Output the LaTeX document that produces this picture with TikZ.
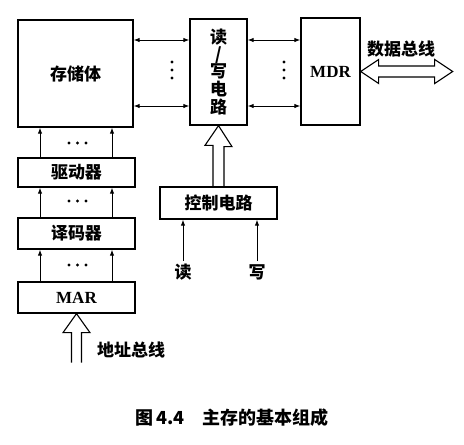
\documentclass[tikz,border=0pt]{standalone}
\usepackage{fontspec}
\setmainfont{Noto Sans CJK SC}
\newfontfamily\latinfont{Liberation Serif}
\usetikzlibrary{arrows.meta,calc}
\tikzset{
  unit/.style={draw,line width=1.3pt,inner sep=0pt,
    font=\fontsize{17}{20}\selectfont\bfseries},
  reg/.style={unit,font=\latinfont\fontsize{17}{20}\selectfont\bfseries},
  bus/.style={draw,line width=1.1pt,line join=miter},
  wire/.style={line width=1pt,-{Latex[length=6pt,width=4.5pt]}},
  wiretwo/.style={line width=1pt,{Latex[length=6pt,width=4.5pt]}-{Latex[length=6pt,width=4.5pt]}},
  tag/.style={inner sep=0pt,font=\fontsize{17}{20}\selectfont\bfseries},
}
\begin{document}
\begin{tikzpicture}[x=1pt,y=-1pt]
  \useasboundingbox (0,0) rectangle (464,445);

  %Boxes
  \node[unit,minimum width=115pt,minimum height=107pt] (store) at (75.5,73.5) {存储体};
  \node[unit,minimum width=57pt,minimum height=106pt,align=center] (rw) at (218.5,72)
    {读\\[-3pt]/\\[-3pt]写\\[-2pt]电\\[-2pt]路};
  \node[reg,minimum width=59pt,minimum height=107pt] (mdr) at (330.5,71.5) {MDR};
  \node[unit,minimum width=117pt,minimum height=29pt] (drv) at (76.5,172.5) {驱动器};
  \node[unit,minimum width=117pt,minimum height=31pt] (dec) at (76.5,233.5) {译码器};
  \node[reg,minimum width=117pt,minimum height=31pt] (mar) at (76.5,297.5) {MAR};
  \node[unit,minimum width=117pt,minimum height=32pt] (ctl) at (218.5,203) {控制电路};

  %Rows and columns of the thin lines
  \coordinate (rowA) at (0,40);
  \coordinate (rowB) at (0,106);
  \coordinate (colA) at (40,0);
  \coordinate (colB) at (112,0);

  \draw[wiretwo] (store.east |- rowA) -- (rw.west |- rowA);
  \draw[wiretwo] (store.east |- rowB) -- (rw.west |- rowB);
  \draw[wiretwo] (rw.east |- rowA) -- (mdr.west |- rowA);
  \draw[wiretwo] (rw.east |- rowB) -- (mdr.west |- rowB);
  \foreach \y in {62,70,78} {
    \fill (172,\y) circle (1.7pt);
    \fill (284,\y) circle (1.7pt);
  }

  \foreach \c in {colA,colB} {
    \draw[wire] (drv.north -| \c) -- (store.south -| \c);
    \draw[wire] (dec.north -| \c) -- (drv.south -| \c);
    \draw[wire] (mar.north -| \c) -- (dec.south -| \c);
  }
  \foreach \y in {143,201,265} {
    \foreach \x in {69,77.5,86}
      \fill (\x,\y) circle (1.7pt);
  }

  %Read and write inputs
  \node[tag] (rd) at (183,272) {读};
  \node[tag] (wr) at (257,272) {写};
  \draw[wire] ($(rd.north)+(0,-3)$) -- (ctl.south -| rd);
  \draw[wire] ($(wr.north)+(0,-3)$) -- (ctl.south -| wr);

  %Buses
  \draw[bus] ($(ctl.north)+(-5.5,0)$) -- ++(0,-41) -- ++(-8,0) -- (rw.south)
    -- ++(13.5,21) -- ++(-8,0) -- ++(0,41);
  \draw[bus] (mdr.east) -- ++(18,-12) -- ++(0,6.5) -- ++(56,0) -- ++(0,-6.5)
    -- ++(18,12) -- ++(-18,12) -- ++(0,-6.5) -- ++(-56,0) -- ++(0,6.5) -- cycle;
  \node[tag] (dbus) at (401,49) {数据总线};
  \draw[bus] ($(mar.south)+(-5,49)$) -- ++(0,-30) -- ++(-8.5,0) -- (mar.south)
    -- ++(13.5,19) -- ++(-8.5,0) -- ++(0,30);
  \node[tag] (abus) at (131,350) {地址总线};

  %Caption
  \node[inner sep=0pt,font=\fontsize{18}{20}\selectfont\bfseries] (cap) at (232,418)
    {图\,4.4\quad 主存的基本组成};
\end{tikzpicture}
\end{document}
